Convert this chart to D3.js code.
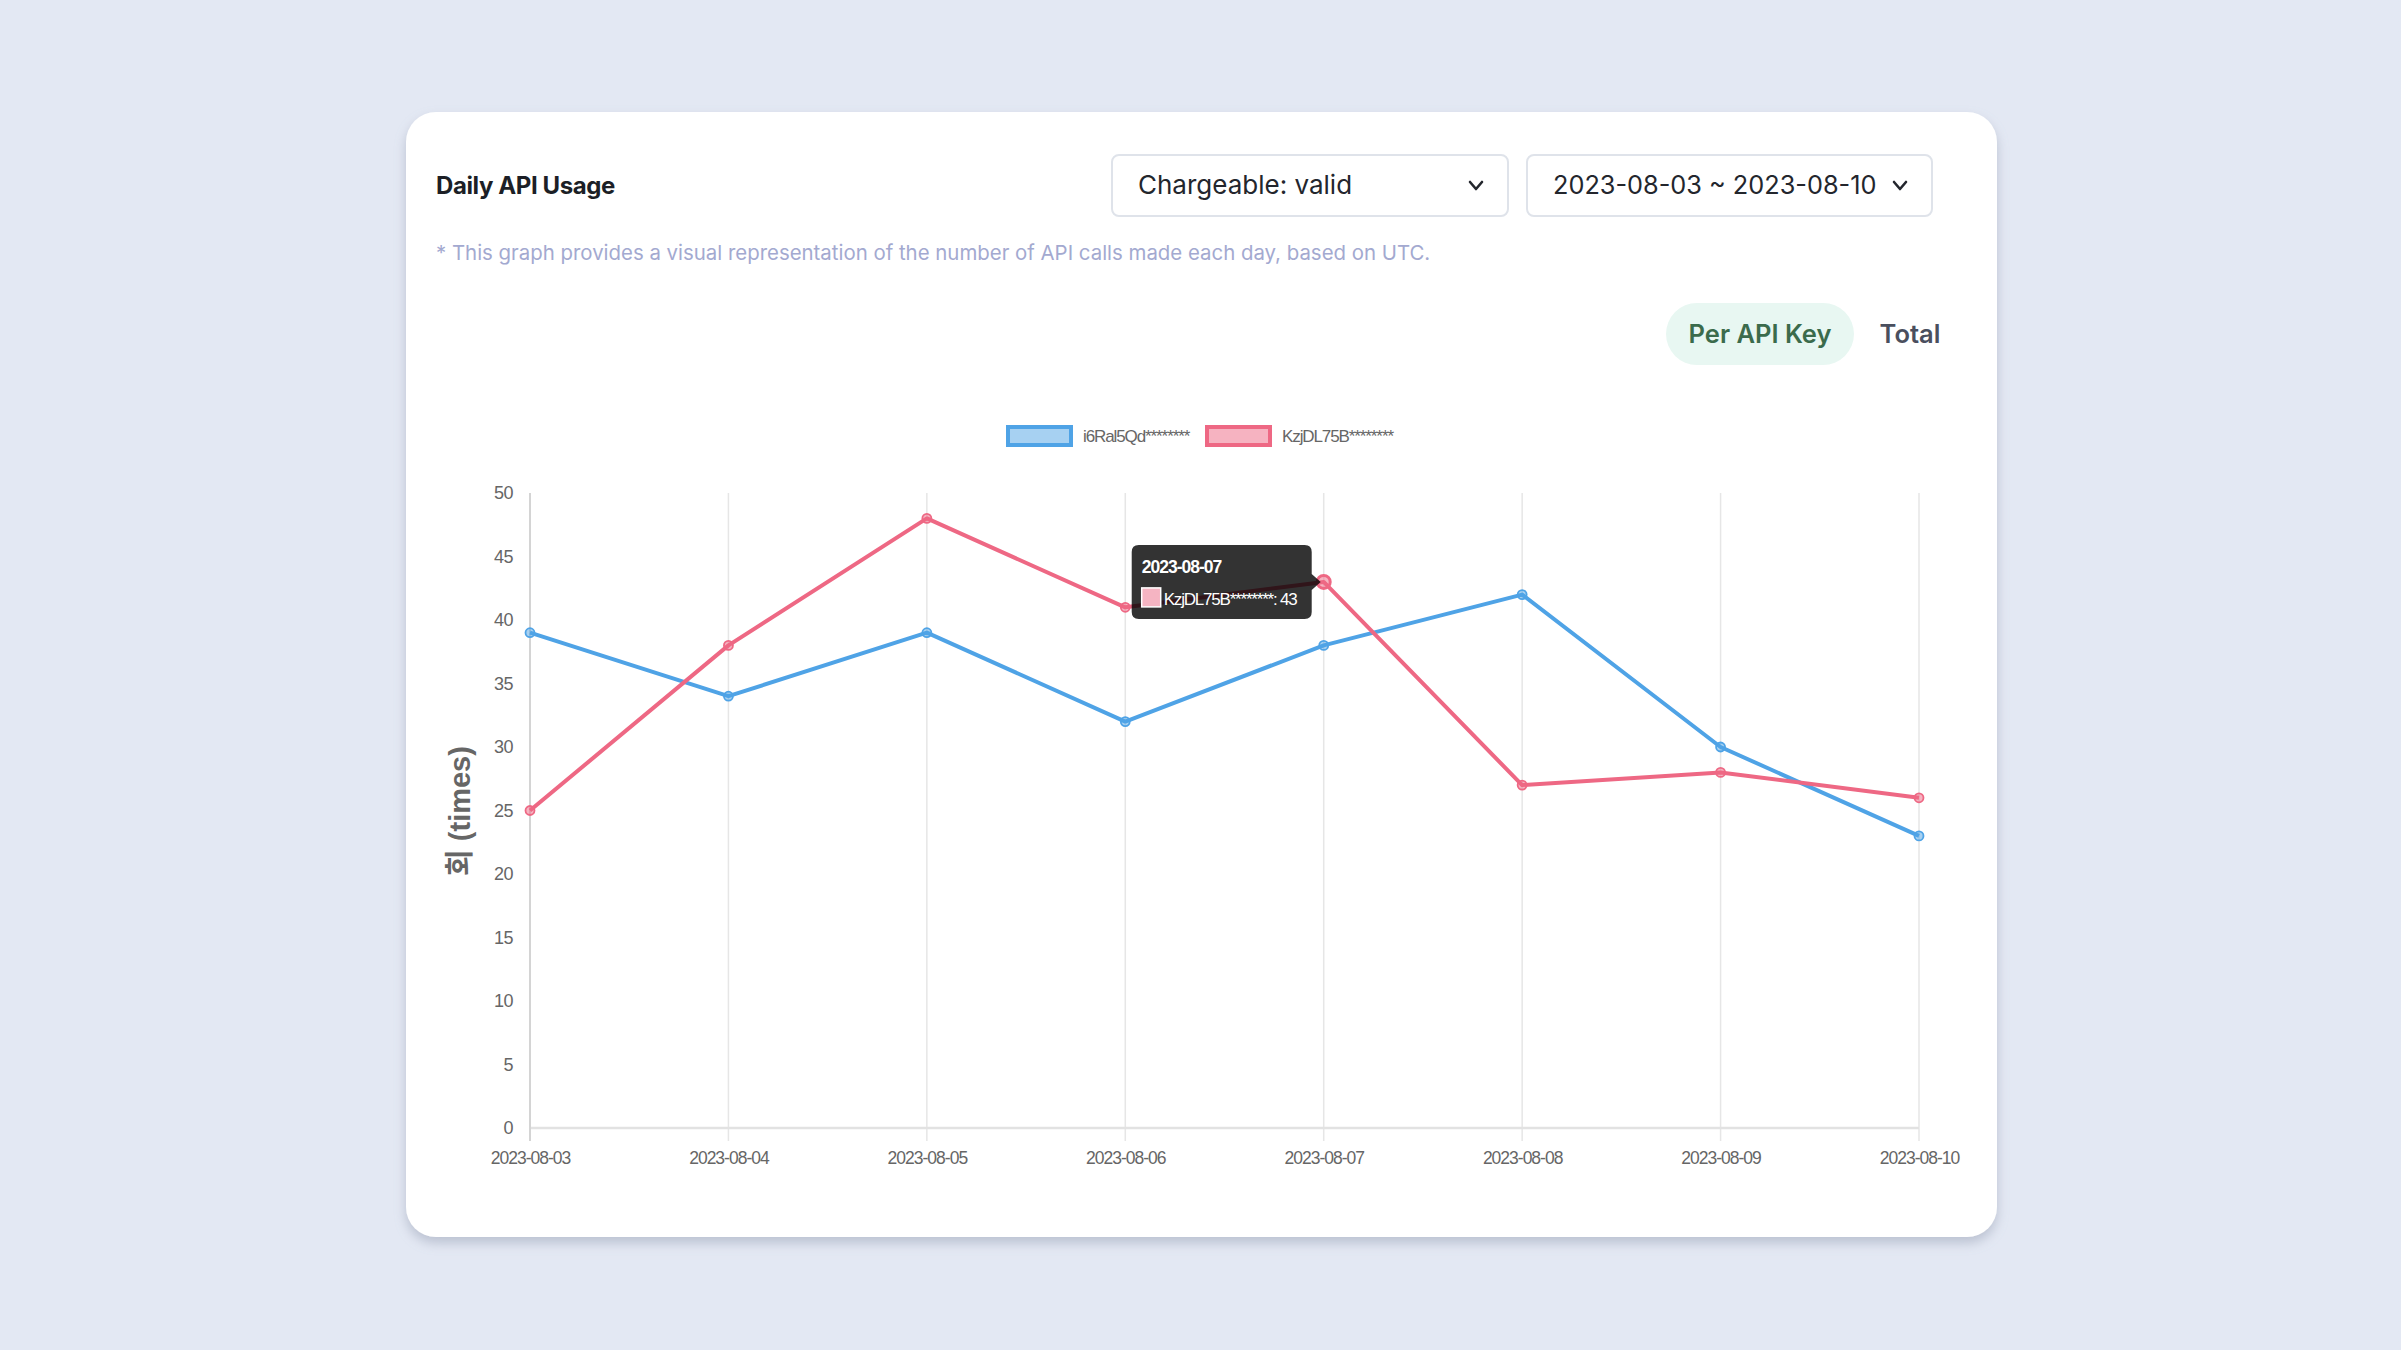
<!DOCTYPE html>
<html><head><meta charset="utf-8">
<script src="https://cdn.jsdelivr.net/npm/d3@7"></script>
<style>
html,body{margin:0;padding:0;background:#e3e8f3;overflow:hidden;}
svg{display:block;}
</style></head>
<body>
<svg id="c" width="2401" height="1350"></svg>
<script>
const dates = ["2023-08-03","2023-08-04","2023-08-05","2023-08-06","2023-08-07","2023-08-08","2023-08-09","2023-08-10"];
const seriesNames = ["i6Ral5Qd********","KzjDL75B********"];
const blueValues = [39,34,39,32,38,42,30,23];
const pinkValues = [25,38,48,41,43,27,28,26];
const yTicks = [0,5,10,15,20,25,30,35,40,45,50];
const colors = ["rgb(79,163,230)","rgb(238,104,132)"];
const fills = ["rgba(79,163,230,0.5)","rgba(238,104,132,0.5)"];
const hoverIndex = 4, hoverSeries = 1;

const svg = d3.select("#c");
const UI = "Inter, 'Noto Sans', sans-serif";
const CH = "'Liberation Sans', Arial, Helvetica, sans-serif";

const defs = svg.append("defs");
const f = defs.append("filter").attr("id","sh").attr("x","-5%").attr("y","-5%").attr("width","110%").attr("height","115%");
f.append("feDropShadow").attr("dx",0).attr("dy",6).attr("stdDeviation",6).attr("flood-color","#8a93a8").attr("flood-opacity",0.45);

// card
svg.append("rect").attr("x",406).attr("y",112).attr("width",1591).attr("height",1125).attr("rx",30).attr("fill","#fff").attr("filter","url(#sh)");

// title
svg.append("text").attr("x",436).attr("y",194).attr("font-family",UI).attr("font-weight",700).attr("font-size",24).attr("letter-spacing",-0.4).attr("fill","#1c1f26").text("Daily API Usage");

// dropdowns
function dropdown(x,w,label,fs){
  svg.append("rect").attr("x",x).attr("y",155).attr("width",w).attr("height",61).attr("rx",7).attr("fill","#fff").attr("stroke","#dfe3ea").attr("stroke-width",2);
  svg.append("text").attr("x",x+26).attr("y",194).attr("font-family",UI).attr("font-size",fs).attr("fill","#23262d").text(label);
  const cx = x+w-32;
  svg.append("path").attr("d",`M${cx-6},${182} L${cx},${189} L${cx+6},${182}`).attr("fill","none").attr("stroke","#23262d").attr("stroke-width",2.6).attr("stroke-linecap","round").attr("stroke-linejoin","round");
}
dropdown(1112,396,"Chargeable: valid",26);
dropdown(1527,405,"2023-08-03 ~ 2023-08-10",25.3);

// note
svg.append("text").attr("x",436).attr("y",260).attr("font-family",UI).attr("font-size",20.4).attr("fill","#a3a9d0").text("* This graph provides a visual representation of the number of API calls made each day, based on UTC.");

// toggle
svg.append("rect").attr("x",1666).attr("y",303).attr("width",188).attr("height",62).attr("rx",31).attr("fill","#e8f7f2");
svg.append("text").attr("x",1760).attr("y",343).attr("text-anchor","middle").attr("font-family",UI).attr("font-weight",600).attr("font-size",25.5).attr("fill","#3b6b4c").text("Per API Key");
svg.append("text").attr("x",1910).attr("y",343).attr("text-anchor","middle").attr("font-family",UI).attr("font-weight",600).attr("font-size",25.5).attr("fill","#4a4f5e").text("Total");

// scales
const x = d3.scalePoint().domain(dates).range([530,1919]);
const y = d3.scaleLinear().domain([0,50]).range([1128,493]);

// legend
const legendX = [1006,1205];
seriesNames.forEach((n,i)=>{
  svg.append("rect").attr("x",legendX[i]+2).attr("y",427).attr("width",63).attr("height",18).attr("fill",fills[i]).attr("stroke",colors[i]).attr("stroke-width",4);
  svg.append("text").attr("x",legendX[i]+77).attr("y",442).attr("font-family",CH).attr("font-size",17).attr("fill","#666").attr("letter-spacing",-1.1).text(n);
});

// grid (vertical)
const g = svg.append("g");
g.selectAll("line.vg").data(dates).join("line").attr("class","vg")
  .attr("x1",d=>x(d)).attr("x2",d=>x(d)).attr("y1",y(50)).attr("y2",1141)
  .attr("stroke","#e6e6e6").attr("stroke-width",1.5);
g.append("line").attr("x1",530).attr("x2",1919).attr("y1",y(0)).attr("y2",y(0)).attr("stroke","#e2e2e2").attr("stroke-width",2.5);
g.append("line").attr("x1",530).attr("x2",530).attr("y1",y(50)).attr("y2",1141).attr("stroke","#d4d4d4").attr("stroke-width",2);

// y ticks
const yAxis = d3.axisLeft(y).tickValues(yTicks).tickSize(0).tickPadding(17);
const ya = svg.append("g").attr("transform","translate(530,0)").call(yAxis);
ya.select(".domain").remove();
ya.selectAll("text").attr("font-family",CH).attr("font-size",18).attr("fill","#666").attr("letter-spacing",-0.5);

// x ticks
const xAxis = d3.axisBottom(x).tickSize(0).tickPadding(24);
const xa = svg.append("g").attr("transform",`translate(0,${y(0)})`).call(xAxis);
xa.select(".domain").remove();
xa.selectAll("text").attr("font-family",CH).attr("font-size",17.5).attr("fill","#666").attr("letter-spacing",-1);

// y title
svg.append("text").attr("transform",`translate(470,811) rotate(-90)`).attr("text-anchor","middle")
  .attr("font-family",CH+", 'Noto Sans CJK KR'").attr("font-weight",700).attr("font-size",29).attr("fill","#666").text("회 (times)");

// lines
const data = [blueValues,pinkValues];
const line = d3.line().x((d,i)=>x(dates[i])).y(d=>y(d));
data.forEach((vals,si)=>{
  svg.append("path").datum(vals).attr("d",line).attr("fill","none").attr("stroke",colors[si]).attr("stroke-width",4).attr("stroke-linejoin","round");
});
data.forEach((vals,si)=>{
  svg.append("g").selectAll("circle").data(vals).join("circle")
    .attr("cx",(d,i)=>x(dates[i])).attr("cy",d=>y(d))
    .attr("r",(d,i)=> (si===hoverSeries && i===hoverIndex) ? 6.5 : 4.5)
    .attr("fill",fills[si]).attr("stroke",colors[si]).attr("stroke-width",(d,i)=> (si===hoverSeries && i===hoverIndex) ? 3 : 1.8);
});

// tooltip
const hv = data[hoverSeries][hoverIndex];
const px = x(dates[hoverIndex]), py = y(hv);
const tw = 180, th = 74, tr = px - 12, tx = tr - tw, ty = py - th/2;
const tg = svg.append("g").attr("opacity",0.8);
tg.append("path").attr("d",`M${tx+7},${ty} H${tr-7} Q${tr},${ty} ${tr},${ty+7} V${py-8} L${tr+9},${py} L${tr},${py+8} V${ty+th-7} Q${tr},${ty+th} ${tr-7},${ty+th} H${tx+7} Q${tx},${ty+th} ${tx},${ty+th-7} V${ty+7} Q${tx},${ty} ${tx+7},${ty} Z`).attr("fill","#000");
svg.append("text").attr("x",tx+10).attr("y",ty+28).attr("font-family",CH).attr("font-weight",700).attr("font-size",17.5).attr("fill","#fff").attr("letter-spacing",-1).text(dates[hoverIndex]);
svg.append("rect").attr("x",tx+10).attr("y",ty+43).attr("width",19).attr("height",19).attr("fill","rgb(245,180,194)").attr("stroke","#fff").attr("stroke-width",1.5);
svg.append("text").attr("x",tx+32).attr("y",ty+60).attr("font-family",CH).attr("font-size",17).attr("fill","#fff").attr("letter-spacing",-1.2).text(seriesNames[hoverSeries]+": "+hv);
</script>
</body></html>
